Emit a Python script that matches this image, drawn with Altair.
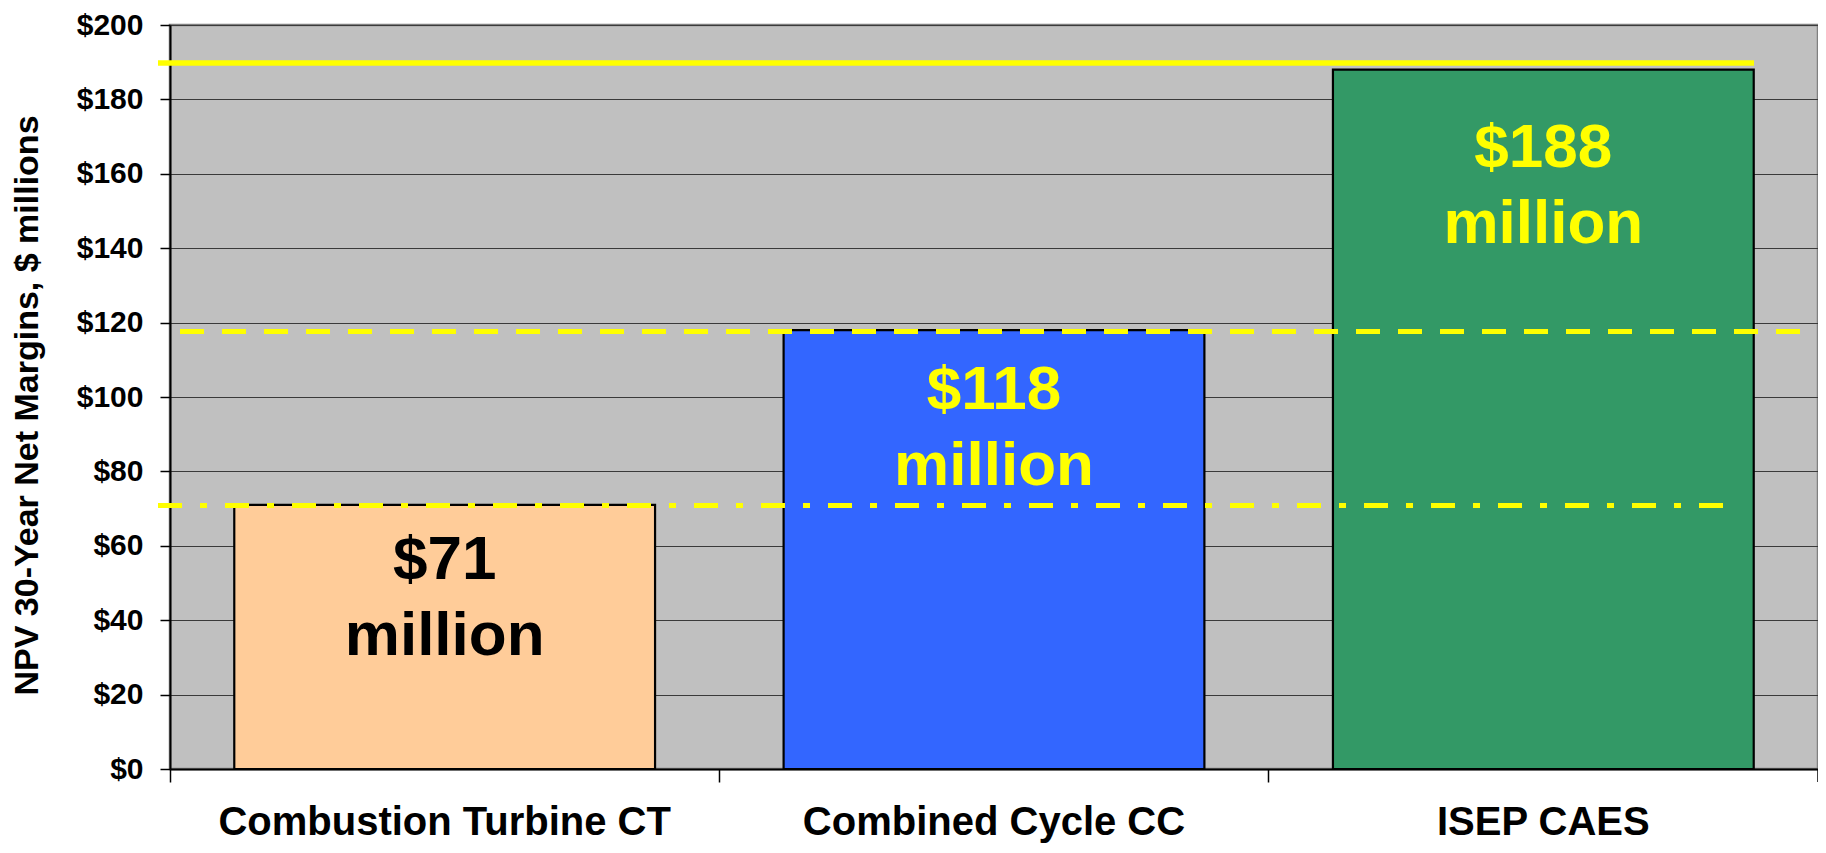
import altair as alt
import pandas as pd

# ---- data ----
categories = ["Combustion Turbine CT", "Combined Cycle CC", "ISEP CAES"]
values = [71, 118, 188]
value_text = ["$71\nmillion", "$118\nmillion", "$188\nmillion"]
bar_colors = ["#FFCC99", "#3366FF", "#339966"]
text_colors = ["#000000", "#FFFF00", "#FFFF00"]
ref_levels = [189.8, 117.6, 70.8]          # solid, dashed, dash-dot yellow lines
y_ticks = [0, 20, 40, 60, 80, 100, 120, 140, 160, 180, 200]

df = pd.DataFrame({"category": categories, "value": values, "label": value_text})
rules_df = pd.DataFrame({"level": ref_levels, "kind": ["solid", "dashed", "dashdot"]})

W, H = 1648, 744
FONT = "Liberation Sans"

x_enc = alt.X(
    "category:N",
    sort=categories,
    scale=alt.Scale(paddingInner=0, paddingOuter=0),
    axis=alt.Axis(
        title=None, labelAngle=0, labelFont=FONT, labelFontSize=40,
        labelFontWeight="bold", labelColor="black", labelPadding=20,
        labelLimit=0, labelOverlap=False,
        tickSize=13, tickColor="black", tickWidth=1.5, bandPosition=0,
        domainColor="black", domainWidth=2, grid=False,
    ),
)
y_enc = alt.Y(
    "value:Q",
    scale=alt.Scale(domain=[0, 200], nice=False, zero=True),
    axis=alt.Axis(
        values=y_ticks, labelExpr="'$' + datum.value",
        labelFont=FONT, labelFontSize=30, labelFontWeight="bold",
        labelColor="black", labelPadding=17, tickSize=10, tickColor="black",
        tickWidth=1.5, domainColor="black", domainWidth=2,
        grid=True, gridColor="#3a3a3a", gridWidth=1.2,
        title="NPV 30-Year Net Margins, $ millions",
        titleFont=FONT, titleFontSize=34, titleFontWeight="bold",
        titleColor="black", titleAngle=-90, titleAlign="center",
        titleBaseline="bottom", titleX=-126, titleY=380, titleLimit=0,
    ),
)

bars = alt.Chart(df).mark_bar(
    width={"band": 0.766}, stroke="black", strokeWidth=2.2
).encode(
    x=x_enc,
    y=y_enc,
    color=alt.Color("category:N", scale=alt.Scale(domain=categories, range=bar_colors), legend=None),
)

text_dy = {"Combustion Turbine CT": 74, "Combined Cycle CC": 79, "ISEP CAES": 97}
texts = []
for cat, col in zip(categories, text_colors):
    texts.append(
        alt.Chart(df).transform_filter(alt.datum.category == cat).mark_text(
            font=FONT, fontSize=62, fontWeight="bold", color=col,
            baseline="alphabetic", align="center", lineBreak="\n",
            lineHeight=76, dy=text_dy[cat],
        ).encode(
            x=alt.X("category:N", sort=categories),
            y=alt.Y("value:Q"),
            text="label:N",
        )
    )

rule_y = alt.Y("level:Q")
solid = alt.Chart(rules_df).transform_filter(alt.datum.kind == "solid").mark_rule(
    color="#FFFF00", strokeWidth=5.5
).encode(y=rule_y, x=alt.value(-12), x2=alt.value(1584))
dashed = alt.Chart(rules_df).transform_filter(alt.datum.kind == "dashed").mark_rule(
    color="#FFFF00", strokeWidth=5, strokeDash=[24, 18]
).encode(y=rule_y, x=alt.value(10), x2=alt.value(W))
dashdot = alt.Chart(rules_df).transform_filter(alt.datum.kind == "dashdot").mark_rule(
    color="#FFFF00", strokeWidth=5, strokeDash=[24, 18, 7, 18]
).encode(y=rule_y, x=alt.value(-12), x2=alt.value(1554))

end_tick = alt.Chart(df).transform_filter(alt.datum.category == categories[-1]).mark_rule(
    color="black", strokeWidth=1.5
).encode(x=alt.value(W), y=alt.value(H), y2=alt.value(H + 13))

chart = alt.layer(bars, *texts, solid, dashed, dashdot, end_tick).properties(
    width=W, height=H,
    autosize=alt.AutoSizeParams(type="none"),
    padding={"left": 162, "top": 17, "right": 0, "bottom": 76},
    background="white",
).configure_view(
    fill="#C0C0C0", stroke="#808080", strokeWidth=2.5
)

chart.save("out.html", embed_options={"renderer": "svg", "actions": False})
